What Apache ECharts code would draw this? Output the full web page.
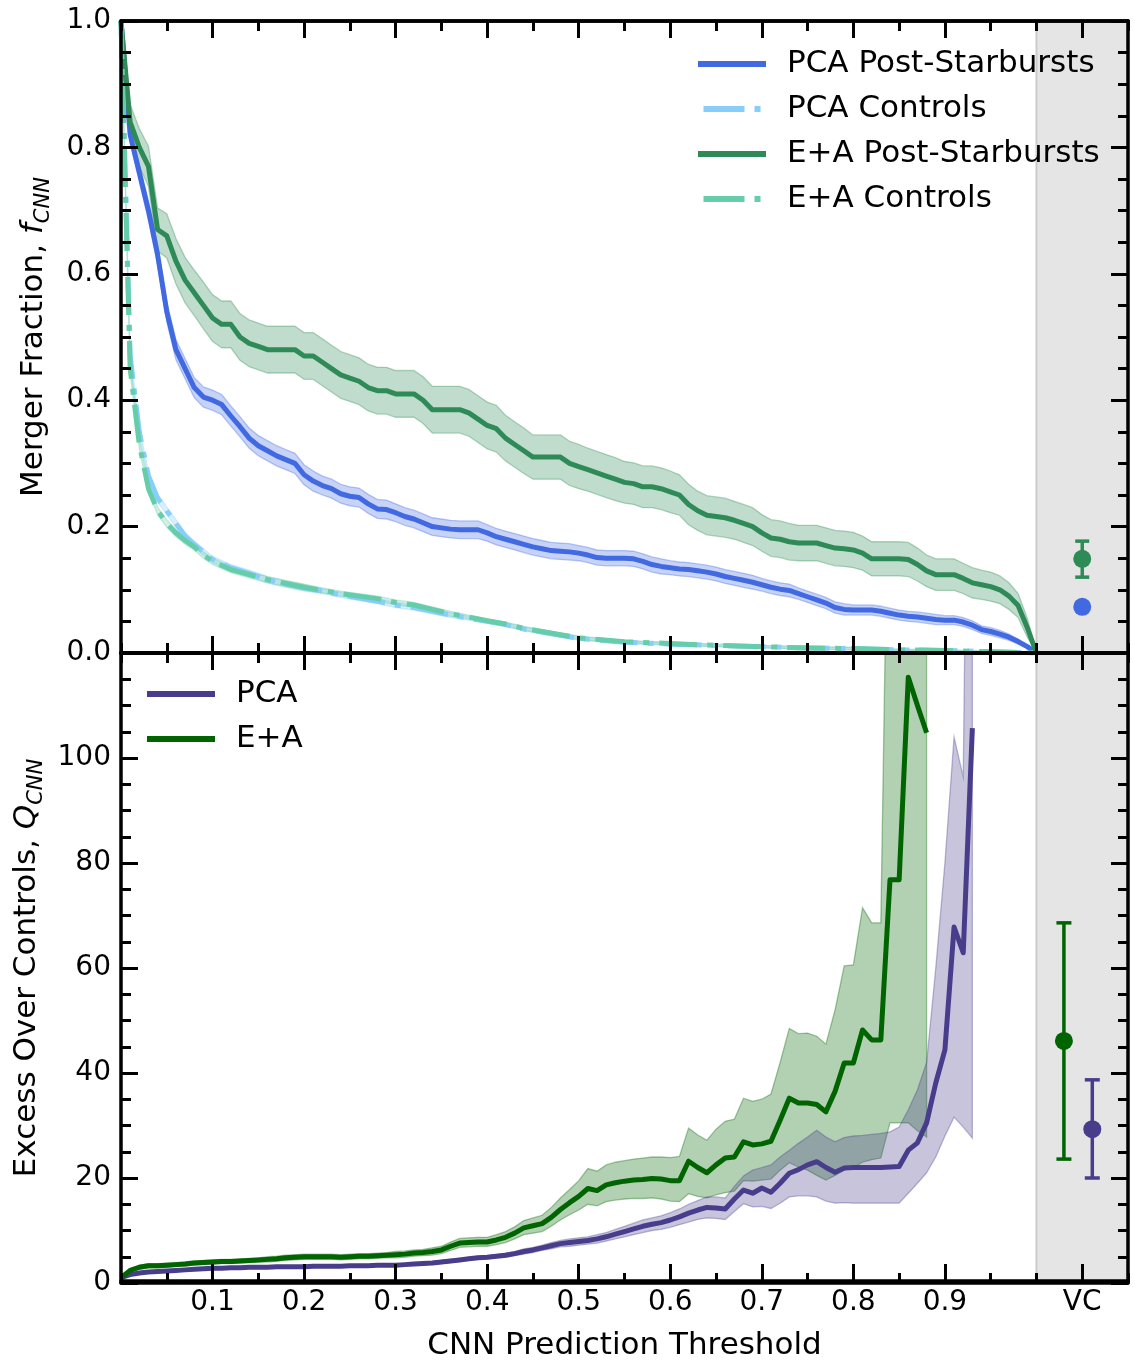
<!DOCTYPE html>
<html><head><meta charset="utf-8">
<script src="https://cdn.jsdelivr.net/npm/echarts@6/dist/echarts.min.js"></script>
<style>html,body{margin:0;padding:0;background:#fff}#c{width:1135px;height:1362px}</style>
</head><body><div id="c"></div>
<script>
// ---------------- DATA ----------------
const xTop = [0,0.01,0.02,0.03,0.04,0.05,0.06,0.07,0.08,0.09,
0.10,0.11,0.12,0.13,0.14,0.15,0.16,0.17,0.18,0.19,
0.20,0.21,0.22,0.23,0.24,0.25,0.26,0.27,0.28,0.29,
0.30,0.31,0.32,0.33,0.34,0.35,0.36,0.37,0.38,0.39,
0.40,0.41,0.42,0.43,0.44,0.45,0.46,0.47,0.48,0.49,
0.50,0.51,0.52,0.53,0.54,0.55,0.56,0.57,0.58,0.59,
0.60,0.61,0.62,0.63,0.64,0.65,0.66,0.67,0.68,0.69,
0.70,0.71,0.72,0.73,0.74,0.75,0.76,0.77,0.78,0.79,
0.80,0.81,0.82,0.83,0.84,0.85,0.86,0.87,0.88,0.89,
0.90,0.91,0.92,0.93,0.94,0.95,0.96,0.97,0.98,0.99,
1.00];

const pcaPsb = [1.00,0.82,0.76,0.70,0.63,0.54,0.48,0.45,0.42,0.405,
0.40,0.393,0.375,0.358,0.34,0.328,0.32,0.312,0.306,0.30,
0.282,0.272,0.265,0.26,0.252,0.248,0.246,0.236,0.228,0.227,
0.222,0.216,0.212,0.206,0.20,0.198,0.196,0.195,0.195,0.195,
0.19,0.184,0.18,0.176,0.172,0.168,0.165,0.162,0.161,0.16,
0.158,0.155,0.151,0.15,0.15,0.15,0.149,0.145,0.14,0.137,
0.135,0.133,0.132,0.13,0.128,0.125,0.121,0.118,0.115,0.112,
0.108,0.104,0.101,0.099,0.094,0.089,0.084,0.079,0.072,0.069,
0.068,0.068,0.068,0.066,0.063,0.06,0.058,0.057,0.055,0.053,
0.052,0.052,0.049,0.044,0.037,0.034,0.03,0.025,0.018,0.01,
0.0];
const pcaPsbErr = [0,0.012,0.014,0.015,0.016,0.016,0.016,0.016,0.016,0.016,
0.016,0.016,0.016,0.016,0.016,0.016,0.016,0.016,0.016,0.016,
0.016,0.016,0.015,0.015,0.015,0.015,0.015,0.015,0.015,0.015,
0.014,0.014,0.014,0.014,0.014,0.014,0.014,0.014,0.014,0.014,
0.013,0.013,0.013,0.013,0.013,0.013,0.013,0.013,0.013,0.013,
0.012,0.012,0.012,0.012,0.012,0.012,0.012,0.012,0.012,0.012,
0.011,0.011,0.011,0.011,0.011,0.011,0.011,0.011,0.011,0.011,
0.010,0.010,0.010,0.010,0.009,0.009,0.009,0.009,0.009,0.009,
0.008,0.008,0.008,0.008,0.008,0.008,0.008,0.008,0.008,0.008,
0.007,0.007,0.007,0.007,0.006,0.006,0.006,0.005,0.004,0.003,
0];

const eaPsb = [1.00,0.84,0.80,0.77,0.67,0.66,0.62,0.59,0.57,0.55,
0.53,0.52,0.52,0.50,0.49,0.485,0.48,0.48,0.48,0.48,
0.47,0.47,0.46,0.45,0.44,0.435,0.43,0.42,0.415,0.415,
0.41,0.41,0.41,0.40,0.385,0.385,0.385,0.385,0.38,0.37,
0.36,0.355,0.34,0.33,0.32,0.31,0.31,0.31,0.31,0.30,
0.295,0.29,0.285,0.28,0.275,0.27,0.268,0.263,0.263,0.26,
0.255,0.25,0.235,0.225,0.218,0.216,0.214,0.21,0.205,0.20,
0.19,0.182,0.18,0.176,0.174,0.174,0.174,0.17,0.166,0.165,
0.163,0.158,0.149,0.149,0.149,0.149,0.148,0.14,0.13,0.124,
0.124,0.124,0.118,0.111,0.108,0.105,0.10,0.09,0.075,0.04,
0.0];
const eaPsbErr = [0,0.028,0.030,0.032,0.034,0.035,0.036,0.036,0.036,0.037,
0.037,0.037,0.037,0.037,0.037,0.037,0.037,0.037,0.037,0.037,
0.037,0.037,0.037,0.037,0.037,0.037,0.037,0.037,0.037,0.037,
0.037,0.037,0.037,0.037,0.037,0.037,0.037,0.037,0.037,0.037,
0.037,0.037,0.036,0.036,0.036,0.035,0.035,0.035,0.035,0.035,
0.035,0.034,0.034,0.034,0.034,0.033,0.033,0.033,0.033,0.033,
0.033,0.032,0.032,0.031,0.031,0.031,0.031,0.030,0.030,0.030,
0.029,0.029,0.029,0.029,0.028,0.028,0.028,0.028,0.028,0.028,
0.028,0.027,0.027,0.027,0.027,0.027,0.027,0.026,0.025,0.025,
0.025,0.025,0.024,0.024,0.023,0.023,0.022,0.021,0.019,0.015,
0];

const xCtrl = [0,0.01,0.02,0.03,0.04,0.05,0.06,0.07,0.08,0.09,
0.10,0.12,0.14,0.16,0.18,0.20,0.22,0.24,0.26,0.28,
0.30,0.32,0.34,0.36,0.38,0.40,0.42,0.44,0.46,0.48,
0.50,0.55,0.60,0.65,0.70,0.75,0.80,0.85,0.90,0.95,
1.00];
const pcaCtrl = [1.0,0.47,0.35,0.28,0.245,0.225,0.205,0.185,0.172,0.16,
0.148,0.135,0.126,0.116,0.109,0.103,0.098,0.092,0.087,0.082,
0.076,0.072,0.066,0.06,0.055,0.05,0.045,0.038,0.033,0.028,
0.023,0.017,0.014,0.012,0.01,0.008,0.007,0.005,0.004,0.002,
0];
const eaCtrl = [1.0,0.45,0.33,0.26,0.225,0.205,0.19,0.178,0.168,0.155,
0.145,0.132,0.124,0.116,0.11,0.104,0.099,0.094,0.09,0.086,
0.08,0.076,0.069,0.062,0.057,0.051,0.046,0.039,0.034,0.029,
0.024,0.018,0.015,0.012,0.01,0.008,0.007,0.005,0.004,0.002,
0];
const ctrlErr = [0,0.008,0.007,0.007,0.006,0.006,0.006,0.006,0.005,0.005,
0.005,0.005,0.005,0.005,0.005,0.005,0.004,0.004,0.004,0.004,
0.004,0.004,0.004,0.004,0.003,0.003,0.003,0.003,0.003,0.003,
0.003,0.002,0.002,0.002,0.002,0.002,0.002,0.001,0.001,0.001,
0];

const xBot = [0,0.01,0.02,0.03,0.04,0.05,0.06,0.07,0.08,0.09,
0.10,0.11,0.12,0.13,0.14,0.15,0.16,0.17,0.18,0.19,
0.20,0.21,0.22,0.23,0.24,0.25,0.26,0.27,0.28,0.29,
0.30,0.31,0.32,0.33,0.34,0.35,0.36,0.37,0.38,0.39,
0.40,0.41,0.42,0.43,0.44,0.45,0.46,0.47,0.48,0.49,
0.50,0.51,0.52,0.53,0.54,0.55,0.56,0.57,0.58,0.59,
0.60,0.61,0.62,0.63,0.64,0.65,0.66,0.67,0.68,0.69,
0.70,0.71,0.72,0.73,0.74,0.75,0.76,0.77,0.78,0.79,
0.80,0.81,0.82,0.83,0.84,0.85,0.86,0.87,0.88,0.89,
0.90,0.91,0.92,0.93];

const pcaQ = [1.0,1.6,1.9,2.1,2.2,2.3,2.4,2.5,2.6,2.7,
2.8,2.8,2.9,2.9,3.0,3.0,3.0,3.1,3.1,3.1,
3.1,3.2,3.2,3.2,3.2,3.3,3.3,3.3,3.4,3.4,
3.4,3.5,3.6,3.7,3.8,4.0,4.2,4.4,4.6,4.8,
4.9,5.1,5.3,5.6,6.0,6.3,6.7,7.1,7.5,7.7,
7.9,8.1,8.4,8.8,9.3,9.8,10.3,10.8,11.2,11.5,
12.0,12.6,13.3,13.9,14.4,14.3,14.1,16.0,17.7,17.1,
18.1,17.3,19.0,20.9,21.6,22.5,23.1,22.0,21.1,21.9,
22.0,22.0,22.0,22.0,22.1,22.2,25.3,26.7,30.5,38.1,
44.4,67.8,62.9,105.7];
const pcaQLo = [0.9,1.4,1.7,1.9,2.0,2.1,2.2,2.3,2.4,2.5,
2.6,2.6,2.7,2.7,2.8,2.8,2.8,2.9,2.9,2.9,
2.9,3.0,3.0,3.0,3.0,3.1,3.1,3.1,3.2,3.2,
3.2,3.3,3.4,3.5,3.6,3.7,3.9,4.1,4.3,4.5,
4.6,4.8,4.9,5.2,5.5,5.8,6.2,6.5,6.9,7.0,
7.2,7.4,7.6,8.0,8.4,8.8,9.2,9.6,10.0,10.2,
10.6,11.1,11.6,12.1,12.4,12.3,12.1,13.6,15.1,14.5,
14.6,14.2,15.2,16.4,16.6,16.6,16.4,15.6,15.2,15.3,
15.2,15.2,15.2,15.2,15.2,15.2,17.1,19.0,21.0,24.0,
28.0,31.6,29.7,27.6];
const pcaQHi = [1.1,1.8,2.1,2.3,2.4,2.5,2.6,2.7,2.8,2.9,
3.0,3.0,3.1,3.1,3.2,3.2,3.2,3.3,3.3,3.3,
3.3,3.4,3.4,3.4,3.4,3.5,3.5,3.5,3.6,3.6,
3.6,3.7,3.8,3.9,4.0,4.3,4.5,4.7,4.9,5.1,
5.2,5.4,5.7,6.0,6.5,6.8,7.2,7.7,8.1,8.4,
8.6,8.8,9.2,9.6,10.2,10.8,11.4,12.0,12.4,12.8,
13.4,14.1,15.0,15.7,16.4,16.4,16.2,18.4,20.4,21.5,
22.0,22.5,24.0,25.3,26.6,27.8,29.1,27.8,26.9,27.7,
28.0,28.1,28.3,28.5,28.8,29.7,33.0,36.8,42.0,60.0,
80.0,104.0,96.4,250];

const eaQ = [1.0,2.4,3.0,3.3,3.3,3.4,3.5,3.6,3.8,3.9,
4.0,4.1,4.1,4.2,4.3,4.4,4.5,4.6,4.8,4.9,
5.0,5.0,5.0,5.0,4.9,5.0,5.1,5.1,5.2,5.3,
5.4,5.5,5.7,5.8,6.0,6.3,7.0,7.6,7.7,7.8,
7.8,8.2,8.7,9.5,10.5,10.9,11.3,12.5,14.0,15.3,
16.5,18.0,17.6,18.7,19.1,19.4,19.6,19.7,19.9,19.8,
19.5,19.5,23.2,22.0,21.0,22.5,23.8,24.0,26.9,26.3,
26.5,27.0,31.0,35.2,34.3,34.3,34.0,32.6,36.5,41.9,
41.9,48.2,46.3,46.3,76.8,76.8,115.4,110.0,104.8];
const eaQLo = [0.9,2.1,2.6,2.9,2.9,3.0,3.1,3.2,3.4,3.5,
3.6,3.7,3.7,3.8,3.9,4.0,4.0,4.1,4.3,4.4,
4.5,4.5,4.5,4.5,4.4,4.5,4.6,4.6,4.7,4.8,
4.8,4.9,5.1,5.2,5.3,5.6,6.2,6.8,6.9,7.0,
7.0,7.3,7.7,8.4,9.2,9.5,9.8,10.8,12.0,13.0,
13.9,15.0,14.7,15.5,15.8,16.0,16.1,16.1,16.2,16.0,
15.6,15.5,17.0,16.5,16.2,16.8,17.2,17.5,19.5,19.4,
19.6,19.8,21.5,22.9,22.1,21.5,20.5,19.6,20.5,21.5,
22.0,23.0,23.5,23.8,30.5,30.5,30.5,29.0,27.8];
const eaQHi = [1.1,2.7,3.4,3.7,3.7,3.8,3.9,4.0,4.2,4.3,
4.4,4.5,4.5,4.6,4.7,4.8,5.0,5.1,5.3,5.4,
5.5,5.5,5.5,5.5,5.4,5.5,5.6,5.6,5.7,5.8,
6.0,6.1,6.3,6.4,6.7,7.0,7.8,8.5,8.6,8.7,
8.7,9.2,9.8,10.7,11.9,12.4,12.9,14.4,16.2,17.8,
19.5,21.8,21.3,22.5,23.0,23.3,23.6,23.8,24.0,24.0,
23.9,24.1,29.5,28.2,27.2,29.3,30.8,31.2,35.2,34.6,
35.0,36.0,42.0,48.5,47.5,47.6,47.0,45.5,52.0,60.4,
60.6,71.5,68.6,68.6,180,180,250,250,250];

// VC points: [x, value, low, high]
const vcTopEa  = [[1.05, 0.149, 0.120, 0.177]];
const vcTopPca = [[1.05, 0.073, 0.067, 0.079]];
const vcBotEa  = [[1.030, 46.1, 23.6, 68.6]];
const vcBotPca = [[1.061, 29.3, 20.0, 38.7]];

const xMajorTicks = [0.1,0.2,0.3,0.4,0.5,0.6,0.7,0.8,0.9,1.05];
const xMajorLabels = ['0.1','0.2','0.3','0.4','0.5','0.6','0.7','0.8','0.9','VC'];

// ---------------- CHART ----------------
const FONT = 'DejaVu Sans';
const TICK_FS = 28, TITLE_FS = 31;
const C = {
  pcaPsb:'#4169E1', pcaCtrl:'#87CEFA', eaPsb:'#2E8B57', eaCtrl:'#66CDAA',
  pcaQ:'#483D8B', eaQ:'#006400'
};
function rgba(hex, a){const n=parseInt(hex.slice(1),16);return `rgba(${n>>16&255},${n>>8&255},${n&255},${a})`;}
function pairs(xs, ys){return ys.map((y,i)=>[xs[i], y]);}

// band = custom series drawing one clipped polygon between lo and hi
function band(gi, xs, lo, hi, color){
  const data = lo.map((l,i)=>[xs[i], l, hi[i]]);
  return {type:'custom', xAxisIndex: gi*2, yAxisIndex: gi===0?0:3, data, z:2, silent:true, clip:true,
    encode:{x:0, y:[1,2]},
    renderItem(params, api){
      if (params.dataIndexInside !== 0) return null;
      const n = params.dataInsideLength;
      const up=[], dn=[];
      for (let i=0;i<n;i++){
        const x = api.value(0,i);
        up.push(api.coord([x, api.value(2,i)]));
        dn.push(api.coord([x, api.value(1,i)]));
      }
      const poly = up.concat(dn.slice().reverse());
      const cs = params.coordSys;
      return {type:'group', clipPath:{type:'rect', shape:{x:cs.x, y:cs.y, width:cs.width, height:cs.height}}, children:[
        {type:'polygon', shape:{points:poly}, style:{fill:rgba(color,0.3), stroke:rgba(color,0.35), lineWidth:1.3}}
      ]};
    }};
}
function mainLine(gi, name, xs, ys, color, dash){
  return {type:'line', name, xAxisIndex: gi*2, yAxisIndex: gi===0?0:3, data: pairs(xs, ys), symbol:'none', showSymbol:false,
    z:3, clip:true, itemStyle:{color}, lineStyle:{color, width:5, type: dash? [38,10,6,10] : 'solid', cap:'butt', join:'round'}};
}
function errBar(gi, data, color, capHalf, lw, r){
  return {type:'custom', xAxisIndex: gi*2, yAxisIndex: gi===0?0:3, data, z:6, clip:false, silent:true,
    encode:{x:0, y:1},
    renderItem(params, api){
      const x=api.value(0), y=api.value(1), lo=api.value(2), hi=api.value(3);
      const c=api.coord([x,y]), pl=api.coord([x,lo]), ph=api.coord([x,hi]);
      const st={stroke:color, lineWidth:lw};
      return {type:'group', children:[
        {type:'line', shape:{x1:c[0],y1:pl[1],x2:c[0],y2:ph[1]}, style:st},
        {type:'line', shape:{x1:c[0]-capHalf,y1:pl[1],x2:c[0]+capHalf,y2:pl[1]}, style:st},
        {type:'line', shape:{x1:c[0]-capHalf,y1:ph[1],x2:c[0]+capHalf,y2:ph[1]}, style:st},
        {type:'circle', shape:{cx:c[0], cy:c[1], r}, style:{fill:color}}
      ]};
    }};
}

const lineStyleAx = {color:'#000', width:3.5};
function xAx(gridIndex, position, major, labels){
  const ax = {type:'value', gridIndex, position, min:0, max:1.1, interval:0.05, z:10,
    axisLine:{show:true, onZero:false, lineStyle:lineStyleAx},
    splitLine:{show:false},
    axisLabel:{show:false},
    axisTick:{show:true, inside:true, length: major?17:10, lineStyle:{color:'#000', width:3}}};
  if (major) ax.axisTick.customValues = xMajorTicks;
  if (labels){
    ax.axisLabel = {show:true, customValues: xMajorTicks, fontSize:TICK_FS, color:'#000', fontFamily:FONT, margin:8,
      formatter: v => { const i = xMajorTicks.findIndex(t=>Math.abs(t-v)<1e-6); return i>=0 ? xMajorLabels[i] : ''; }};
    ax.name = 'CNN Prediction Threshold';
    ax.nameLocation = 'middle';
    ax.nameGap = 49;
    ax.nameTextStyle = {fontSize:TITLE_FS, color:'#000', fontFamily:FONT};
  }
  return ax;
}
function yAx(gridIndex, position, max, interval, labels, name, nameGap, fmt){
  const ax = {type:'value', gridIndex, position, min:0, max, interval, z:10,
    axisLine:{show:true, onZero:false, lineStyle:lineStyleAx},
    splitLine:{show:false},
    axisTick:{show:true, inside:true, length:17, lineStyle:{color:'#000', width:3}},
    minorTick:{show:true, splitNumber:4, length:10, lineStyle:{color:'#000', width:3}},
    minorSplitLine:{show:false},
    axisLabel:{show:labels, fontSize:TICK_FS, color:'#000', fontFamily:FONT, margin:10, formatter: fmt}};
  if (name){
    ax.name = name; ax.nameLocation='middle'; ax.nameGap=nameGap;
    ax.nameTextStyle = {color:'#000', fontFamily:FONT, rich:{
      n:{fontSize:TITLE_FS, fontFamily:FONT, color:'#000', lineHeight:40},
      i:{fontSize:TITLE_FS, fontFamily:FONT, color:'#000', fontStyle:'italic', lineHeight:40},
      s:{fontSize:21, fontFamily:FONT, color:'#000', fontStyle:'italic', lineHeight:16, verticalAlign:'bottom'}
    }};
  }
  return ax;
}

const gridTop = {left:121, right:7, top:21, height:632};
const gridBot = {left:121, right:7, top:653, height:630};

const solidIcon = 'path://M0,0H68V6H0Z';
const dashIcon = 'path://M0,0H41V6H0Z M51,0H57V6H51Z';

const series = [
  // VC shaded regions
  {type:'line', xAxisIndex:0, yAxisIndex:0, data:[[1.0,0],[1.1,0]], symbol:'none', lineStyle:{opacity:0}, silent:true, z:1,
    markArea:{silent:true, itemStyle:{color:'#e5e5e5', borderColor:'#cccccc', borderWidth:2}, data:[[{xAxis:1.0},{xAxis:1.1}]]}},
  {type:'line', xAxisIndex:4, yAxisIndex:3, data:[[1.0,0],[1.1,0]], symbol:'none', lineStyle:{opacity:0}, silent:true, z:1,
    markArea:{silent:true, itemStyle:{color:'#e5e5e5', borderColor:'#cccccc', borderWidth:2}, data:[[{xAxis:1.0},{xAxis:1.1}]]}},
];
// top panel bands
series.push(band(0, xTop, pcaPsb.map((v,i)=>v-pcaPsbErr[i]), pcaPsb.map((v,i)=>v+pcaPsbErr[i]), C.pcaPsb));
series.push(band(0, xCtrl, pcaCtrl.map((v,i)=>v-ctrlErr[i]), pcaCtrl.map((v,i)=>v+ctrlErr[i]), C.pcaCtrl));
series.push(band(0, xTop, eaPsb.map((v,i)=>v-eaPsbErr[i]), eaPsb.map((v,i)=>v+eaPsbErr[i]), C.eaPsb));
series.push(band(0, xCtrl, eaCtrl.map((v,i)=>v-ctrlErr[i]), eaCtrl.map((v,i)=>v+ctrlErr[i]), C.eaCtrl));
// top panel lines
series.push(mainLine(0, 'PCA Post-Starbursts', xTop, pcaPsb, C.pcaPsb, false));
series.push(mainLine(0, 'PCA Controls', xCtrl, pcaCtrl, C.pcaCtrl, true));
series.push(mainLine(0, 'E+A Post-Starbursts', xTop, eaPsb, C.eaPsb, false));
series.push(mainLine(0, 'E+A Controls', xCtrl, eaCtrl, C.eaCtrl, true));
series.push(errBar(0, vcTopEa, C.eaPsb, 7, 3.5, 9));
series.push(errBar(0, vcTopPca, C.pcaPsb, 7, 3.5, 9));
// bottom panel
series.push(band(2, xBot, eaQLo, eaQHi, C.eaQ));
series.push(band(2, xBot, pcaQLo, pcaQHi, C.pcaQ));
series.push(mainLine(2, 'PCA', xBot, pcaQ, C.pcaQ, false));
series.push(mainLine(2, 'E+A', xBot, eaQ, C.eaQ, false));
series.push(errBar(2, vcBotEa, C.eaQ, 7.5, 3.5, 9));
series.push(errBar(2, vcBotPca, C.pcaQ, 7.5, 3.5, 9));

const legendText = {fontSize:TITLE_FS, color:'#000', fontFamily:FONT, lineHeight:36, padding:[0,0,0,16]};
const option = {
  animation:false,
  backgroundColor:'#fff',
  textStyle:{fontFamily:FONT},
  grid:[gridTop, Object.assign({}, gridTop), gridBot, Object.assign({}, gridBot)],
  xAxis:[
    xAx(0,'bottom',false,false), xAx(0,'top',false,false),
    xAx(1,'bottom',true,false), xAx(1,'top',true,false),
    xAx(2,'bottom',false,false), xAx(2,'top',false,false),
    xAx(3,'bottom',true,true), xAx(3,'top',true,false)
  ],
  yAxis:[
    yAx(0,'left',1.0,0.2,true,'{n|Merger Fraction, }{i|f}{s|CNN}',67, v=>v.toFixed(1)),
    yAx(0,'right',1.0,0.2,false),
    {type:'value', gridIndex:1, show:false, min:0, max:1},
    yAx(2,'left',120,20,true,'{n|Excess Over Controls, }{i|Q}{s|CNN}',74, v=> v>=120 ? '' : String(v)),
    yAx(2,'right',120,20,false),
    {type:'value', gridIndex:3, show:false, min:0, max:1}
  ],
  legend:[
    {orient:'vertical', left:698, top:46, padding:0, itemWidth:68, itemHeight:6, itemGap:9, selectedMode:false,
     itemStyle:{borderWidth:0}, textStyle:legendText,
     data:[{name:'PCA Post-Starbursts', icon:solidIcon},{name:'PCA Controls', icon:dashIcon},
           {name:'E+A Post-Starbursts', icon:solidIcon},{name:'E+A Controls', icon:dashIcon}]},
    {orient:'vertical', left:147, top:676, padding:0, itemWidth:68, itemHeight:6, itemGap:9, selectedMode:false,
     itemStyle:{borderWidth:0}, textStyle:legendText,
     data:[{name:'PCA', icon:solidIcon},{name:'E+A', icon:solidIcon}]}
  ],
  series
};
const chart = echarts.init(document.getElementById('c'), null, {renderer:'canvas'});
chart.setOption(option);
</script>
</body></html>
